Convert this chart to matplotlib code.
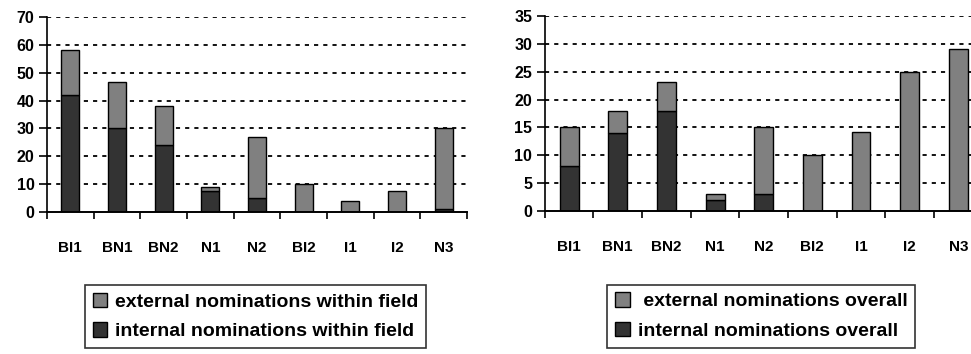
import numpy as np
import matplotlib
matplotlib.use("Agg")
import matplotlib.pyplot as plt

matplotlib.rc('font', family='Liberation Sans', weight='bold', size=11)

categories = ["BI1", "BN1", "BN2", "N1", "N2", "BI2", "I1", "I2", "N3"]

# within field (left chart)
internal_field = [42, 30, 24, 7.5, 5, 0, 0, 0, 1.2]
external_field = [16, 16.5, 14, 1.5, 22, 10, 3.9, 7.6, 28.8]

# overall (right chart)
internal_overall = [8, 14, 18, 2, 3, 0, 0, 0, 0]
external_overall = [7, 4, 5.2, 1, 12, 10, 14.1, 25, 29]

dark = "#333333"
light = "#808080"


def draw_panel(ax, internal, external, ymax, ystep, ext_label, int_label):
    x = np.arange(len(categories))
    w = 0.39
    ax.bar(x, internal, w, color=dark, edgecolor="black", linewidth=1.0,
           label=int_label, zorder=3)
    ax.bar(x, external, w, bottom=internal, color=light, edgecolor="black",
           linewidth=1.0, label=ext_label, zorder=3)
    ax.set_xlim(-0.5, len(categories) - 0.5)
    ax.set_ylim(0, ymax)
    ax.set_yticks(np.arange(0, ymax + 1, ystep))
    ax.set_xticks(x)
    ax.set_xticklabels(categories)
    ax.set_xticks(np.arange(-0.5, len(categories), 1), minor=True)
    ax.tick_params(axis="x", which="major", length=0, pad=21, labelsize=11)
    ax.tick_params(axis="x", which="minor", length=5, direction="out", width=1.2)
    ax.tick_params(axis="y", length=6, width=1.2, direction="out", labelsize=11.5, pad=3)
    for s in ["top", "right"]:
        ax.spines[s].set_visible(False)
    ax.spines["left"].set_linewidth(1.2)
    ax.spines["bottom"].set_linewidth(1.4)
    ax.spines["bottom"].set_zorder(4)
    ax.yaxis.grid(True, color="black", linestyle=(0, (2.3, 2.8)), linewidth=1.3)
    ax.set_axisbelow(True)
    # the axis line already marks zero
    ax.get_ygridlines()[0].set_visible(False)


fig = plt.figure(figsize=(9.71, 3.54), dpi=100)

ax1 = fig.add_axes([0.0484, 0.401, 0.4326, 0.551])
draw_panel(ax1, internal_field, external_field, 70, 10,
           "external nominations within field", "internal nominations within field")

ax2 = fig.add_axes([0.561, 0.404, 0.451, 0.551])
draw_panel(ax2, internal_overall, external_overall, 35, 5,
           " external nominations overall", "internal nominations overall")

for ax, center in [(ax1, (0.263, 0.106)), (ax2, (0.784, 0.107))]:
    h, l = ax.get_legend_handles_labels()
    leg = fig.legend(h[::-1], l[::-1], loc="center", bbox_to_anchor=center,
                     frameon=True, fancybox=False,
                     edgecolor="black", handlelength=0.75, handleheight=0.75,
                     handletextpad=0.4, labelspacing=0.6, borderpad=0.4,
                     borderaxespad=0, prop={"weight": "bold", "size": 14})
    leg.get_frame().set_linewidth(1.2)

fig.savefig("out.png", dpi=100)
